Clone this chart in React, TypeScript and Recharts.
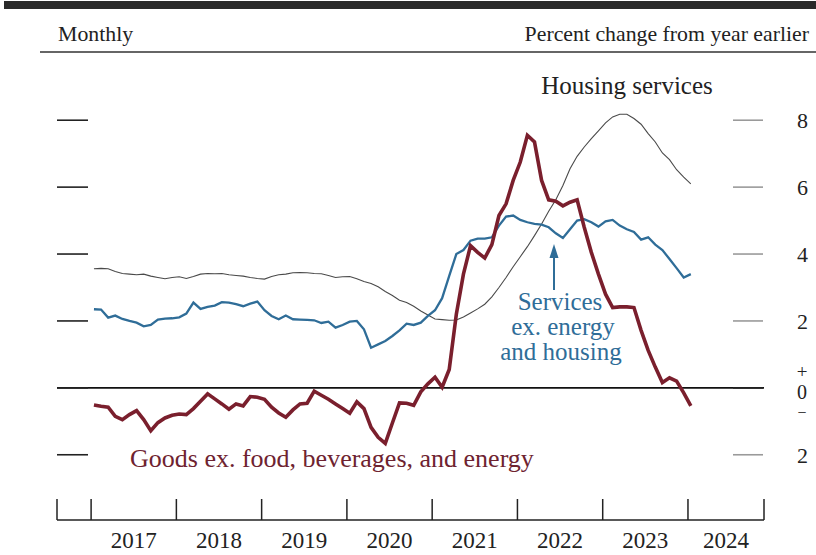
import { LineChart, Line, XAxis, YAxis, ReferenceLine } from "recharts";

// Monthly, Jan 2017 - Jan 2024, percent change from year earlier
const YEARS = ["2017", "2018", "2019", "2020", "2021", "2022", "2023", "2024"];
const Y_TICKS = [-2, 0, 2, 4, 6, 8];

const housing = [
  3.56, 3.57, 3.56, 3.48, 3.42, 3.40, 3.38, 3.40, 3.34, 3.30, 3.26, 3.30,
  3.32, 3.27, 3.33, 3.40, 3.42, 3.41, 3.42, 3.38, 3.36, 3.34, 3.30, 3.27,
  3.25, 3.33, 3.38, 3.40, 3.44, 3.45, 3.44, 3.42, 3.41, 3.36, 3.30, 3.32,
  3.33, 3.26, 3.18, 3.12, 3.02, 2.88, 2.76, 2.62, 2.55, 2.44, 2.30, 2.18,
  2.06, 2.04, 2.02, 2.03, 2.12, 2.24, 2.36, 2.50, 2.72, 3.00, 3.30, 3.62,
  3.92, 4.22, 4.55, 4.90, 5.28, 5.62, 6.05, 6.55, 6.92, 7.20, 7.45, 7.68,
  7.92, 8.10, 8.18, 8.18, 8.05, 7.88, 7.60, 7.35, 7.02, 6.82, 6.52, 6.30,
  6.10,
];

const services = [
  2.35, 2.34, 2.10, 2.16, 2.06, 2.00, 1.95, 1.84, 1.88, 2.04, 2.07, 2.08,
  2.11, 2.22, 2.55, 2.36, 2.42, 2.46, 2.56, 2.55, 2.50, 2.44, 2.52, 2.58,
  2.32, 2.15, 2.05, 2.16, 2.05, 2.04, 2.03, 2.02, 1.94, 1.98, 1.80, 1.88,
  1.98, 2.00, 1.75, 1.20, 1.30, 1.40, 1.55, 1.72, 1.92, 1.88, 1.95, 2.15,
  2.32, 2.68, 3.35, 4.00, 4.12, 4.40, 4.46, 4.46, 4.50, 4.85, 5.12, 5.15,
  5.02, 4.95, 4.90, 4.88, 4.80, 4.62, 4.48, 4.74, 5.00, 5.04, 4.95, 4.82,
  4.98, 5.02, 4.85, 4.74, 4.66, 4.43, 4.50, 4.28, 4.12, 3.85, 3.58, 3.30,
  3.40,
];

const goods = [
  -0.51, -0.55, -0.58, -0.85, -0.95, -0.80, -0.68, -0.95, -1.28, -1.04, -0.90, -0.82,
  -0.78, -0.80, -0.62, -0.40, -0.18, -0.33, -0.48, -0.64, -0.48, -0.54, -0.26, -0.28,
  -0.34, -0.58, -0.75, -0.88, -0.66, -0.48, -0.46, -0.10, -0.22, -0.34, -0.48, -0.62,
  -0.76, -0.42, -0.62, -1.18, -1.48, -1.66, -1.05, -0.45, -0.46, -0.52, -0.12, 0.12,
  0.32, 0.02, 0.55, 2.20, 3.40, 4.25, 4.05, 3.88, 4.28, 5.15, 5.50, 6.20,
  6.75, 7.55, 7.35, 6.20, 5.62, 5.58, 5.44, 5.55, 5.62, 4.80, 4.05, 3.40,
  2.80, 2.40, 2.42, 2.42, 2.40, 1.72, 1.12, 0.62, 0.16, 0.30, 0.20, -0.15,
  -0.54,
];

const X_MIN = -4.8;
const X_MAX = 94.7;
const Y_MIN = -3.95;
const Y_MAX = 9.8;
const X_TICKS = [X_MIN, 0, 12, 24, 36, 48, 60, 72, 84, X_MAX];

const data = housing.map((h, i) => ({
  m: i + 0.4,
  housing: h,
  services: services[i],
  goods: goods[i],
}));

const W = 816;
const H = 555;
const LEFT_W = 57;
const RIGHT_W = 52;
const PX_PER_MONTH = (W - LEFT_W - RIGHT_W) / (X_MAX - X_MIN);
const FONT = '"Liberation Serif", "Times New Roman", serif';
const INK = "#222";
const BLUE = "#2f6d98";

function XTick({ x, y, payload }: any) {
  const v = payload.value;
  const k = Math.round(v / 12);
  const isYear = v >= 0 && v <= 84 && Math.abs(v - k * 12) < 0.01;
  const half = v < 84 ? 6 * PX_PER_MONTH : ((X_MAX - 84) / 2) * PX_PER_MONTH;
  return (
    <g>
      <line x1={x} x2={x} y1={y} y2={y - 21} stroke={INK} strokeWidth={1.5} />
      {isYear && (
        <text x={x + half} y={y + 28} textAnchor="middle" fontFamily={FONT} fontSize={23} fill={INK}>
          {YEARS[k]}
        </text>
      )}
    </g>
  );
}

function LeftTick({ x, y }: any) {
  return <line x1={x} x2={x + 31} y1={y} y2={y} stroke={INK} strokeWidth={1.6} />;
}

function RightTick({ x, y, payload }: any) {
  const v = payload.value;
  if (v === 0) {
    // "+ 0 −" stacked around the zero line
    return (
      <g>
        <line x1={x - 31} x2={x - 1} y1={y} y2={y} stroke={INK} strokeWidth={1.6} />
        <text textAnchor="middle" fontFamily={FONT} fill={INK}>
          <tspan x={x + 38} y={y - 10} fontSize={19}>+</tspan>
          <tspan x={x + 38} y={y + 11} fontSize={20}>0</tspan>
          <tspan x={x + 38} y={y + 30} fontSize={16}>−</tspan>
        </text>
      </g>
    );
  }
  return (
    <g>
      <line x1={x - 31} x2={x - 1} y1={y} y2={y} stroke="#9a9a9a" strokeWidth={1.6} />
      <text x={x + 44} y={y + 8} textAnchor="end" fontFamily={FONT} fontSize={22} fill={INK}>
        {Math.abs(v)}
      </text>
    </g>
  );
}

export default function App() {
  return (
    <div style={{ position: "absolute", left: 0, top: 0, width: W, height: H, background: "#fff" }}>
      <LineChart width={W} height={H} data={data} margin={{ top: 60, right: 0, left: 0, bottom: 0 }}>
        <XAxis
          dataKey="m"
          type="number"
          domain={[X_MIN, X_MAX]}
          ticks={X_TICKS}
          interval={0}
          height={35}
          tickSize={0}
          tickMargin={0}
          tickLine={false}
          axisLine={{ stroke: INK, strokeWidth: 1.5 }}
          tick={<XTick />}
          allowDataOverflow
        />
        <YAxis
          yAxisId="left"
          orientation="left"
          width={LEFT_W}
          domain={[Y_MIN, Y_MAX]}
          ticks={Y_TICKS}
          interval={0}
          tickSize={0}
          tickMargin={0}
          tickLine={false}
          axisLine={false}
          tick={<LeftTick />}
          allowDataOverflow
        />
        <YAxis
          yAxisId="right"
          orientation="right"
          width={RIGHT_W}
          domain={[Y_MIN, Y_MAX]}
          ticks={Y_TICKS}
          interval={0}
          tickSize={0}
          tickMargin={0}
          tickLine={false}
          axisLine={false}
          tick={<RightTick />}
          allowDataOverflow
        />
        <ReferenceLine yAxisId="left" y={0} stroke="#111" strokeWidth={1.6} />
        <Line yAxisId="left" type="linear" dataKey="housing" stroke="#4a4a4a" strokeWidth={1.1} dot={false} isAnimationActive={false} />
        <Line yAxisId="left" type="linear" dataKey="services" stroke={BLUE} strokeWidth={2.3} dot={false} isAnimationActive={false} />
        <Line yAxisId="left" type="linear" dataKey="goods" stroke="#7a1f2d" strokeWidth={3.6} dot={false} isAnimationActive={false} />
      </LineChart>

      <svg width={W} height={H} style={{ position: "absolute", left: 0, top: 0, pointerEvents: "none" }}>
        <rect x={4} y={1} width={W - 4} height={8} fill="#2a2a2a" />
        <text x={58} y={41} fontFamily={FONT} fontSize={21.8} fill={INK}>Monthly</text>
        <text x={809} y={41} textAnchor="end" fontFamily={FONT} fontSize={21.8} fill={INK}>
          Percent change from year earlier
        </text>
        <line x1={40} x2={W} y1={52} y2={52} stroke="#333" strokeWidth={1.5} />

        <text x={627} y={94} textAnchor="middle" fontFamily={FONT} fontSize={25} fill={INK}>Housing services</text>

        <line x1={554} x2={554} y1={290} y2={256} stroke={BLUE} strokeWidth={2} />
        <polygon points="554,244 549.5,258 558.5,258" fill={BLUE} />
        <text textAnchor="middle" fontFamily={FONT} fontSize={25} fill={BLUE}>
          <tspan x={560} y={310}>Services</tspan>
          <tspan x={563} y={335}>ex. energy</tspan>
          <tspan x={561} y={360}>and housing</tspan>
        </text>

        <text x={130} y={467} fontFamily={FONT} fontSize={26} fill="#6e2330">
          Goods ex. food, beverages, and energy
        </text>
      </svg>
    </div>
  );
}
